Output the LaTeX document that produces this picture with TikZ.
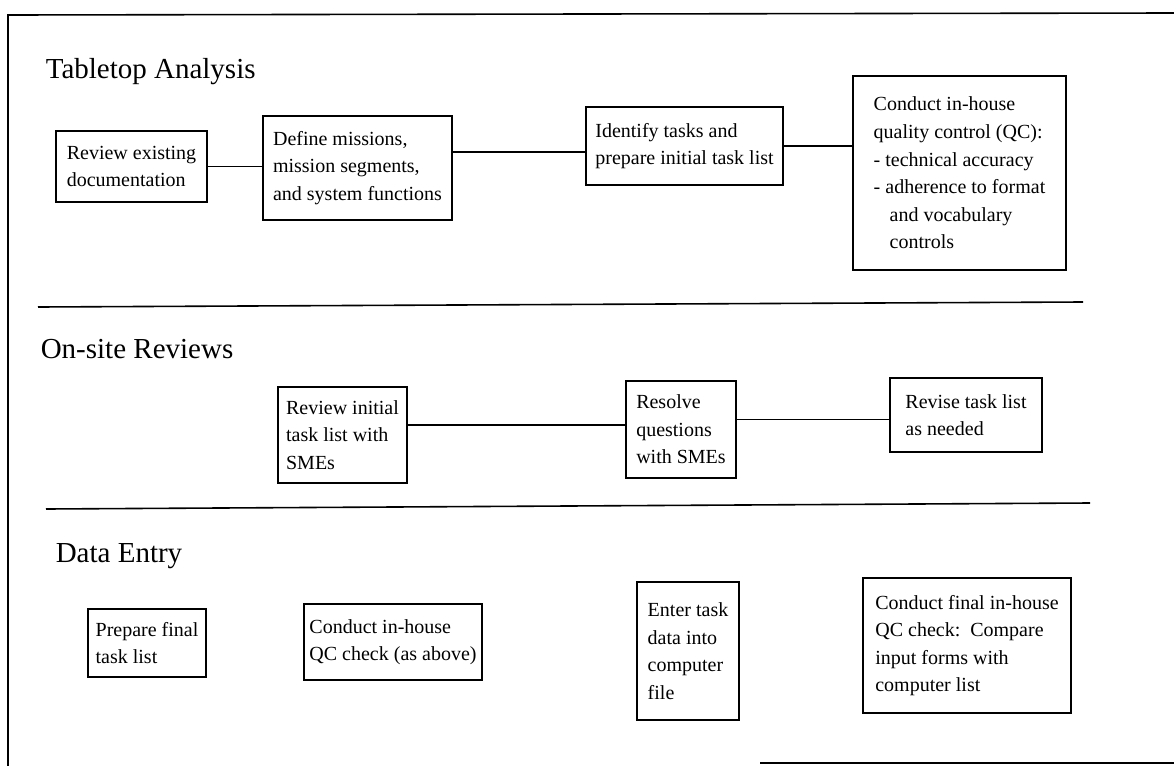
\documentclass[tikz,border=0pt]{standalone}
\usepackage{fontspec}
\setmainfont{Liberation Serif}
\usetikzlibrary{calc,positioning}

\begin{document}
\begin{tikzpicture}[x=0.5pt,y=-0.5pt,line width=0.8pt,
 task/.style={draw,align=left,inner xsep=2pt,inner ysep=2pt,font=\fontsize{10}{13.8}\selectfont},
 phase/.style={anchor=base west,inner sep=0pt,font=\fontsize{14.5}{17}\selectfont}]
 \useasboundingbox (0,0) rectangle (1174,766);

 % frame and section rules
 \coordinate (tl) at (8,15);
 \coordinate (tr) at (1174,13);
 \coordinate (bl) at (8,766);
 \draw (tr) -- (tl) -- (bl);
 \draw (760,763) -- (1174,763);
 \draw (38,307) -- (1083,302);
 \draw (46,509) -- (1090,503);

 % Tabletop Analysis
 \node[phase] (p1) at (45,78) {Tabletop Analysis};
 \node[task, minimum width=75.5pt, minimum height=35.5pt] (ta1) at (131.5,166.5) {Review existing\\documentation};
 \node[task, minimum width=94.5pt, minimum height=52pt] (ta2) at (357.5,168) {Define missions,\\mission segments,\\and system functions};
 \node[task, minimum width=98.5pt, minimum height=39pt] (ta3) at (684.5,146) {Identify tasks and\\prepare initial task list};
 \node[task, minimum width=106.5pt, minimum height=97pt] (ta4) at (959.5,173) {Conduct in-house\\quality control (QC):\\- technical accuracy\\- adherence to format\\\hspace*{8pt}and vocabulary\\\hspace*{8pt}controls};
 \draw (ta1.east) -- (ta1.east -| ta2.west);
 \draw ($(ta2.east)!0.3!(ta2.north east)$) coordinate (c23) -- (c23 -| ta3.west);
 \draw (ta3.east) -- (ta3.east -| ta4.west);

 % On-site Reviews
 \node[phase] (p2) at (40,358) {On-site Reviews};
 \node[task, minimum width=64.5pt, minimum height=48pt] (os1) at (342.5,435) {Review initial\\task list with\\SMEs};
 \node[task, minimum width=55pt, minimum height=48.5pt] (os2) at (681,429.5) {Resolve\\questions\\with SMEs};
 \node[task, minimum width=76pt, minimum height=37pt] (os3) at (966,415) {Revise task list\\as needed};
 \draw ($(os1.east)!0.2!(os1.north east)$) coordinate (c12) -- (c12 -| os2.west);
 \draw ($(os2.east)!0.2!(os2.north east)$) coordinate (c23b) -- (c23b -| os3.west);

 % Data Entry
 \node[phase] (p3) at (55,562) {Data Entry};
 \node[task, minimum width=59pt, minimum height=34pt] (de1) at (147,643) {Prepare final\\task list};
 \node[task, minimum width=89pt, minimum height=38pt] (de2) at (393,642) {Conduct in-house\\QC check (as above)};
 \node[task, minimum width=51pt, minimum height=69pt] (de3) at (688,651) {Enter task\\data into\\computer\\file};
 \node[task, minimum width=104pt, minimum height=67.5pt] (de4) at (967,645.5) {Conduct final in-house\\QC check:\ \ Compare\\input forms with\\computer list};
\end{tikzpicture}
\end{document}
